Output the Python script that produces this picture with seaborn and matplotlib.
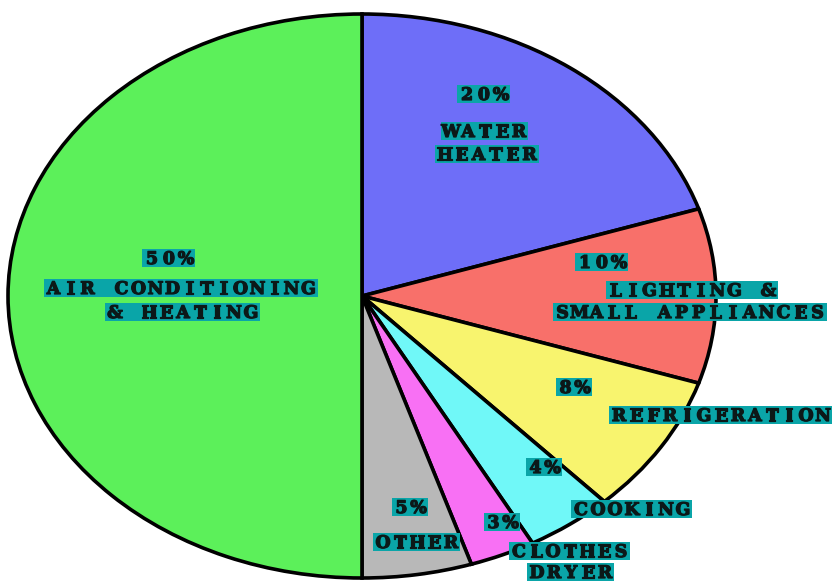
import matplotlib
matplotlib.use("Agg")
import matplotlib.pyplot as plt
import matplotlib.patheffects as pe
import seaborn as sns
from matplotlib.patches import Rectangle

# Chart data (clockwise from 12 o'clock)
categories = ["WATER\nHEATER", "LIGHTING &\nSMALL APPLIANCES", "REFRIGERATION",
              "COOKING", "CLOTHES\nDRYER", "OTHER", "AIR CONDITIONING\n& HEATING"]
shares = [20, 10, 8, 4, 3, 5, 50]
slice_colors = ["#6E6EF8", "#F8706A", "#F8F46E", "#70F8F8", "#F870F4", "#B8B8B8", "#5CF05A"]

# Label layout in pixel coords of the 833x581 image (centre of each line)
pct_pos = [(484, 94), (602, 262), (574, 387), (544, 467), (502, 522), (410, 507), (169, 258)]
name_pos = [[(485, 131), (487, 154)],
            [(692, 290), (690, 312)],
            [(721, 415)],
            [(632, 509)],
            [(570, 551), (571, 572)],
            [(417, 542)],
            [(181, 288), (183, 312)]]

W, H = 833, 581
PITCH = 17          # px per character (letter-spaced pixel font look)
BOX_COLOR = "#0AA5A8"
TEXT_COLOR = "#0C1818"

sns.set_theme(style="white")
fig = plt.figure(figsize=(W / 100, H / 100), dpi=100)
fig.patch.set_facecolor("white")

# Elliptical pie: axes box matches the ellipse, aspect left free
cx, cy, rx, ry = 362, 296, 354, 282
ax = fig.add_axes([(cx - rx) / W, (H - cy - ry) / H, 2 * rx / W, 2 * ry / H])
wedges, _ = ax.pie(shares, colors=slice_colors, startangle=90, counterclock=False,
                   wedgeprops=dict(edgecolor="black", linewidth=2.6))
for w in wedges:
    w.set_clip_on(False)
ax.set_aspect("auto")
ax.set_xlim(-1, 1)
ax.set_ylim(-1, 1)
ax.axis("off")

# Overlay axes in pixel coords for the boxed labels
lab = fig.add_axes([0, 0, 1, 1])
lab.set_xlim(0, W)
lab.set_ylim(H, 0)
lab.axis("off")

bold = [pe.withStroke(linewidth=0.9, foreground=TEXT_COLOR)]


def boxed_line(text, x, y):
    n = len(text)
    width = n * PITCH + 2
    lab.add_patch(Rectangle((x - width / 2, y - 9), width, 18, facecolor=BOX_COLOR,
                            edgecolor="none", clip_on=False))
    for i, ch in enumerate(text):
        if ch == " ":
            continue
        lab.text(x + (i - (n - 1) / 2) * PITCH, y + 6, ch, ha="center", va="baseline",
                 fontsize=12.5, fontweight="bold", family="DejaVu Serif",
                 color=TEXT_COLOR, clip_on=False, path_effects=bold)


for share, name, ppos, npos in zip(shares, categories, pct_pos, name_pos):
    boxed_line(f"{share}%", *ppos)
    for line, pos in zip(name.split("\n"), npos):
        boxed_line(line, *pos)

fig.savefig("out.png", dpi=100, facecolor="white")
